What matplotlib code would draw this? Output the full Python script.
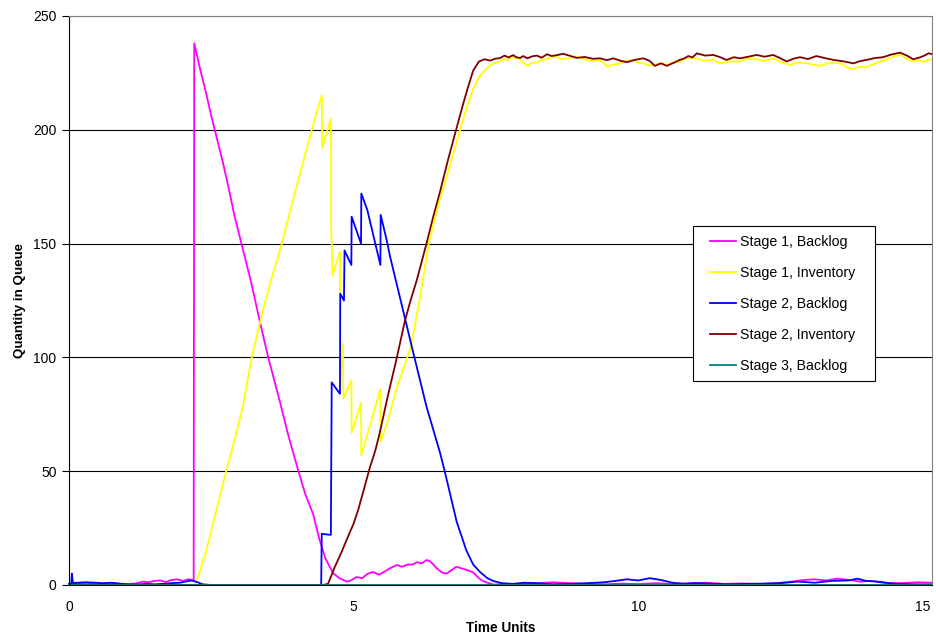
import matplotlib
matplotlib.use("Agg")
import matplotlib.pyplot as plt
from matplotlib.patches import Rectangle

plt.rcParams['font.family'] = ['Liberation Sans', 'DejaVu Sans']

# Stage 1, Backlog
t_s1_back = [0, 0.1, 0.2, 0.3, 0.4, 0.5, 0.6, 0.7, 0.8, 0.9, 1.0, 1.1, 1.2, 1.3, 1.4, 1.5,
             1.6, 1.7, 1.8, 1.9, 2.0, 2.1, 2.19, 2.2, 2.3, 2.4, 2.5, 2.56, 2.7, 2.8, 2.9,
             3.03, 3.2, 3.35, 3.5, 3.7, 3.85, 4.03, 4.15, 4.29, 4.4, 4.5, 4.58, 4.65, 4.75,
             4.88, 4.95, 5.05, 5.15, 5.25, 5.34, 5.45, 5.55, 5.65, 5.76, 5.85, 5.95, 6.04,
             6.11, 6.2, 6.28, 6.34, 6.4, 6.46, 6.55, 6.63, 6.72, 6.8, 6.9, 7.0, 7.1, 7.2,
             7.27, 7.35, 7.45, 7.6, 7.9, 8.2, 8.5, 8.8, 9.1, 9.4, 9.7, 10.0, 10.3, 10.6,
             10.9, 11.2, 11.5, 11.8, 12.1, 12.4, 12.7, 12.9, 13.1, 13.3, 13.5, 13.7, 13.9,
             14.1, 14.3, 14.6, 14.9, 15.15]
s1_back = [0.5, 1, 0.5, 1, 0.5, 1, 0.3, 0.8, 0.5, 0.3, 0.2, 0.5, 0.8, 1.5, 1.2, 1.8,
           2, 1.3, 2.2, 2.5, 1.8, 2.5, 2.0, 238, 227, 217, 206, 200, 186, 175, 163,
           150, 133, 116, 100, 81, 66, 50, 40, 31, 20, 12, 8, 5, 3,
           1.5, 2, 3.5, 3, 5, 5.7, 4.5, 6, 7.5, 8.8, 8, 9, 9,
           10, 9.5, 11, 10.5, 9, 7.3, 5.5, 5, 6.5, 8, 7.3, 6.5, 5.5, 3,
           1.8, 1, 0.2, 0.3, 0.5, 0.8, 1.2, 0.8, 0.5, 0.3, 0.6, 0.4, 0.8, 0.5,
           0.8, 1, 0.5, 0.7, 0.4, 0.8, 1.5, 2.2, 2.5, 2, 2.8, 2.2, 1.5,
           1.8, 1, 0.8, 1.2, 1]

# Stage 1, Inventory
t_s1_inv = [0, 2.21, 2.3, 2.4, 2.5, 2.6, 2.76, 2.9, 3.05, 3.21, 3.4, 3.55, 3.74, 3.9,
            4.06, 4.2, 4.32, 4.44, 4.45, 4.60, 4.605, 4.63, 4.76, 4.765, 4.81, 4.82,
            4.96, 4.965, 5.13, 5.135, 5.47, 5.475, 5.6, 5.75, 5.9, 6.0, 6.15, 6.32,
            6.5, 6.7, 6.87, 7.0, 7.1, 7.2, 7.3, 7.4, 7.5, 7.57, 7.64, 7.7, 7.75, 7.8,
            7.86, 7.92, 7.98, 8.05, 8.12, 8.22, 8.3, 8.4, 8.48, 8.57, 8.65, 8.8, 8.9,
            9.06, 9.15, 9.33, 9.4, 9.45, 9.55, 9.68, 9.78, 9.9, 10.0, 10.09, 10.2,
            10.3, 10.4, 10.5, 10.6, 10.73, 10.85, 11.03, 11.15, 11.32, 11.38, 11.44,
            11.6, 11.79, 11.9, 12.08, 12.2, 12.37, 12.5, 12.67, 12.8, 12.96, 13.08,
            13.2, 13.35, 13.55, 13.65, 13.78, 13.9, 14.01, 14.15, 14.3, 14.4, 14.48,
            14.6, 14.7, 14.83, 14.92, 15.01, 15.1, 15.16]
s1_inv = [0, 0, 6, 14, 24, 34, 50, 63, 78, 100, 120, 134, 150, 166,
          181, 194, 205, 215, 192, 205, 158, 136, 146.5, 87, 106, 82,
          90, 67, 80, 57, 86, 63, 72, 86, 97, 104, 124, 150,
          168, 185, 200, 211, 218, 223, 226, 228.5, 229.5, 230, 231.2, 230.6, 231.5, 232,
          231.2, 231, 229.5, 228, 229.3, 229.6, 230.8, 231, 232.2, 232, 231, 231.5, 232.3,
          231, 230.2, 230.5, 229.2, 227.8, 228.6, 229.2, 230.3, 230.7, 229.6, 229.2, 228.3,
          228.5, 229.4, 228.5, 229.6, 230, 231.5, 231.4, 230.2, 231, 229.9, 229.2,
          230, 230, 231.2, 231, 230.2, 231.4, 229.8, 228.5, 229.6, 229.2, 228.6,
          228.1, 229.5, 229.2, 227.6, 226.6, 227.8, 227.5, 229.1, 230.4, 231.2, 232.2,
          232.9, 231.4, 230, 230.6, 229.7, 230.8, 231]

# Stage 2, Backlog
t_s2_back = [0, 0.04, 0.05, 0.07, 0.15, 0.3, 0.45, 0.6, 0.75, 0.9, 1.05, 1.2, 1.35, 1.5,
             1.65, 1.8, 1.95, 2.05, 2.15, 2.25, 2.35, 2.5, 4.43, 4.44, 4.60, 4.61, 4.615,
             4.76, 4.765, 4.83, 4.84, 4.96, 4.965, 5.13, 5.135, 5.24, 5.47, 5.475, 5.58,
             5.64, 5.81, 6.05, 6.28, 6.52, 6.6, 6.81, 6.98, 7.1, 7.22, 7.35, 7.45, 7.6,
             7.8, 8.0, 8.2, 8.5, 8.8, 9.1, 9.4, 9.6, 9.8, 10.0, 10.2, 10.4, 10.6, 10.8,
             11.0, 11.3, 11.6, 11.9, 12.2, 12.5, 12.8, 13.1, 13.4, 13.7, 13.85, 14.0,
             14.2, 14.5, 14.8, 15.15]
s2_back = [0.5, 0.5, 5, 0.8, 1, 1.2, 1, 0.8, 1, 0.6, 0.3, 0.2, 0.5, 0.3,
           0.5, 0.8, 1, 1.5, 2, 1.3, 0.3, 0, 0, 22.5, 22, 67, 89,
           84, 128, 125, 147, 140.6, 161.8, 150, 172, 164.8, 140.6, 162.6, 151.6,
           144.3, 126.7, 101.8, 78.4, 57.9, 50, 27.8, 15.2, 9, 5.7, 3, 1.8, 0.8,
           0.5, 1, 0.8, 0.3, 0.5, 0.8, 1.2, 1.8, 2.5, 2, 3, 2.2, 1, 0.5,
           0.8, 0.5, 0.3, 0.5, 0.6, 0.8, 1.5, 1, 1.8, 2, 2.8, 1.8,
           1.5, 0.5, 0.3, 0.2]

# Stage 2, Inventory
t_s2_inv = [0, 4.46, 4.55, 4.67, 4.78, 4.88, 5.0, 5.08, 5.18, 5.29, 5.38, 5.46, 5.6,
            5.76, 5.9, 6.0, 6.11, 6.28, 6.4, 6.52, 6.65, 6.8, 6.92, 7.0, 7.1, 7.2,
            7.3, 7.4, 7.48, 7.57, 7.65, 7.72, 7.8, 7.86, 7.92, 7.98, 8.05, 8.14, 8.22,
            8.3, 8.4, 8.48, 8.57, 8.68, 8.8, 8.92, 9.06, 9.2, 9.33, 9.45, 9.56, 9.68,
            9.8, 9.95, 10.09, 10.2, 10.29, 10.4, 10.5, 10.62, 10.73, 10.8, 10.88,
            10.95, 11.03, 11.18, 11.32, 11.45, 11.55, 11.68, 11.79, 11.95, 12.08,
            12.22, 12.37, 12.5, 12.61, 12.72, 12.84, 12.98, 13.13, 13.28, 13.43,
            13.6, 13.78, 13.9, 14.01, 14.15, 14.3, 14.45, 14.6, 14.72, 14.83, 14.92,
            15.01, 15.1, 15.16]
s2_inv = [0, 0, 0.5, 8, 14, 20, 27, 33, 42, 52, 59, 67, 83,
          100, 116, 125, 134, 150, 162, 173, 186, 200, 211, 218, 226, 230,
          231, 230.4, 231.2, 231.5, 232.6, 231.8, 232.8, 231.9, 231.5, 232.4, 231.4, 232.3, 232.6,
          231.7, 233.2, 232.4, 232.8, 233.4, 232.5, 231.6, 232, 231.2, 231.4, 230.6, 231.4, 230.4,
          229.7, 230.8, 231.4, 230.3, 228.1, 229.2, 228.1, 229.4, 230.7, 231.3, 232.4,
          231.8, 233.6, 232.6, 232.9, 231.8, 230.7, 231.9, 231.4, 232.2, 232.9,
          232.1, 232.9, 231.4, 230, 231.2, 231.9, 231.1, 232.4, 231.5, 230.7,
          230.1, 229.2, 230.2, 230.7, 231.5, 231.9, 233.1, 233.9, 232.6, 231, 231.6,
          232.4, 233.6, 233.3]

# Stage 3, Backlog
t_s3_back = [0, 15.16]
s3_back = [0, 0]

labels = ["Stage 1, Backlog", "Stage 1, Inventory", "Stage 2, Backlog",
          "Stage 2, Inventory", "Stage 3, Backlog"]
colors = ["#FF00FF", "#FFFF00", "#0000FF", "#800000", "#008080"]

fig = plt.figure(figsize=(9.37, 6.42), dpi=100)
ax = fig.add_axes([69 / 937, 1 - 585 / 642, (932 - 69) / 937, (585 - 16) / 642])

series = [(t_s1_back, s1_back), (t_s1_inv, s1_inv), (t_s2_back, s2_back),
          (t_s2_inv, s2_inv), (t_s3_back, s3_back)]
for (tx, ty), lab, col in zip(series, labels, colors):
    ax.plot(tx, ty, color=col, lw=1.3, label=lab, clip_on=False)

ax.set_xlim(0, 15.16)
ax.set_ylim(0, 250)
ax.set_xticks([0, 5, 10, 15])
ax.set_yticks([0, 50, 100, 150, 200, 250])
ax.yaxis.grid(True, color="black", lw=0.8)
ax.set_axisbelow(True)

for s in ["top", "right"]:
    ax.spines[s].set_color("#808080")
    ax.spines[s].set_linewidth(0.8)
for s in ["left", "bottom"]:
    ax.spines[s].set_color("black")
    ax.spines[s].set_linewidth(0.8)

ax.tick_params(axis="x", length=0, pad=11, labelsize=10)
ax.tick_params(axis="y", length=5, width=0.8, pad=4, labelsize=10)

ax.set_xlabel("Time Units", fontsize=9.8, fontweight="bold", labelpad=5)
ax.set_ylabel("Quantity in Queue", fontsize=9.6, fontweight="bold", labelpad=5)

# legend box drawn separately so its padding matches the original
box = Rectangle((693 / 937, 1 - 381 / 642), 182 / 937, 155 / 642,
                transform=fig.transFigure, facecolor="white", edgecolor="black",
                lw=0.8, zorder=4, clip_on=False)
ax.add_patch(box)
leg = ax.legend(loc="upper left", bbox_to_anchor=(710 / 937, 1 - 235 / 642),
                bbox_transform=fig.transFigure, fontsize=10.2, frameon=False,
                borderpad=0, labelspacing=1.2, handlelength=1.85,
                handletextpad=0.3, borderaxespad=0)
leg.set_zorder(5)

fig.savefig("out.png", dpi=100)
